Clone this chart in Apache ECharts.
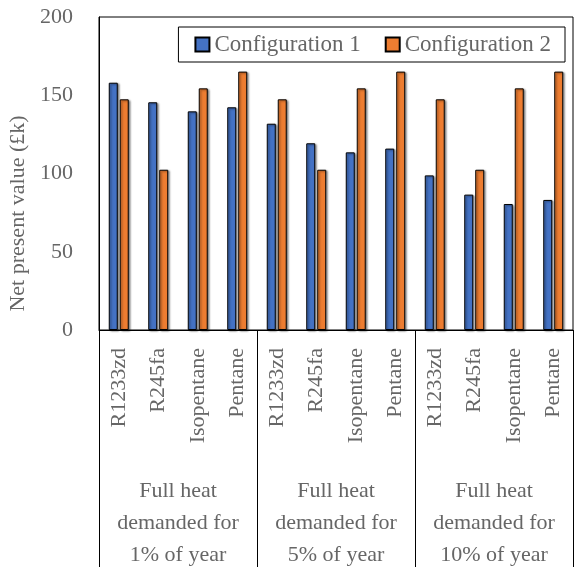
<!DOCTYPE html>
<html><head><meta charset="utf-8">
<script src="https://cdn.jsdelivr.net/npm/echarts@6/dist/echarts.min.js"></script>
<style>html,body{margin:0;padding:0;background:#fff}#c{width:574px;height:567px}</style>
</head><body><div id="c"></div>
<script>
const categories = ["R1233zd","R245fa","Isopentane","Pentane","R1233zd","R245fa","Isopentane","Pentane","R1233zd","R245fa","Isopentane","Pentane"];
const groups = ["Full heat\ndemanded for\n1% of year","Full heat\ndemanded for\n5% of year","Full heat\ndemanded for\n10% of year"];
const config1 = [158, 145.5, 139.7, 142.3, 131.8, 119.3, 113.5, 115.9, 98.8, 86.5, 80.5, 83.1];
const config2 = [147.4, 102.4, 154.4, 165.1, 147.4, 102.4, 154.4, 165.1, 147.4, 102.4, 154.4, 165.1];
const yTicks = [0, 50, 100, 150, 200];

const font = "'Liberation Serif', 'DejaVu Serif', serif";
const grey = '#666';
const chart = echarts.init(document.getElementById('c'), null, {renderer:'canvas'});
const shadow = {borderColor:'#000', borderWidth:1, shadowColor:'rgba(0,0,0,0.45)', shadowBlur:2, shadowOffsetX:1.5, shadowOffsetY:1};
chart.setOption({
  animation:false,
  textStyle:{fontFamily:font},
  grid:{left:99, right:1, top:17, bottom:237, show:true, borderColor:'#000', borderWidth:1, containLabel:false, outerBoundsMode:'none'},
  legend:{
    right:9, top:27, itemWidth:14, itemHeight:14, itemGap:24,
    padding:[6,14,6,16], borderColor:'#000', borderWidth:1, backgroundColor:'#fff',
    textStyle:{fontFamily:font, fontSize:23, color:grey},
    data:[{name:'Configuration 1', icon:'rect'},{name:'Configuration 2', icon:'rect'}]
  },
  xAxis:[{
    type:'category', data:categories, position:'bottom',
    axisLine:{show:true, lineStyle:{color:'#000', width:1}},
    axisTick:{show:false},
    axisLabel:{interval:0, rotate:90, margin:18, fontSize:22, color:grey, fontFamily:font}
  },{
    type:'category', data:groups, position:'bottom',
    axisLine:{show:false},
    axisTick:{show:true, length:240, lineStyle:{color:'#000', width:1}},
    axisLabel:{interval:0, margin:145, fontSize:22, lineHeight:32, color:grey, fontFamily:font, align:'center', verticalAlign:'top'}
  }],
  yAxis:{
    type:'value', min:yTicks[0], max:yTicks[yTicks.length-1], interval:50,
    name:'Net present value (£k)', nameLocation:'middle', nameGap:63, nameRotate:90,
    nameTextStyle:{fontSize:22, color:grey, fontFamily:font, padding:[0,80,0,0]},
    axisLine:{show:true, lineStyle:{color:'#000'}},
    axisTick:{show:false},
    splitLine:{show:false},
    axisLabel:{fontSize:22, color:grey, margin:26, fontFamily:font}
  },
  series:[
    {name:'Configuration 1', type:'bar', data:config1, barWidth:9, barGap:'22%', itemStyle:Object.assign({color:'#4472C4'}, shadow)},
    {name:'Configuration 2', type:'bar', data:config2, barWidth:9, barGap:'22%', itemStyle:Object.assign({color:'#ED7D31'}, shadow)}
  ]
});
</script></body></html>
